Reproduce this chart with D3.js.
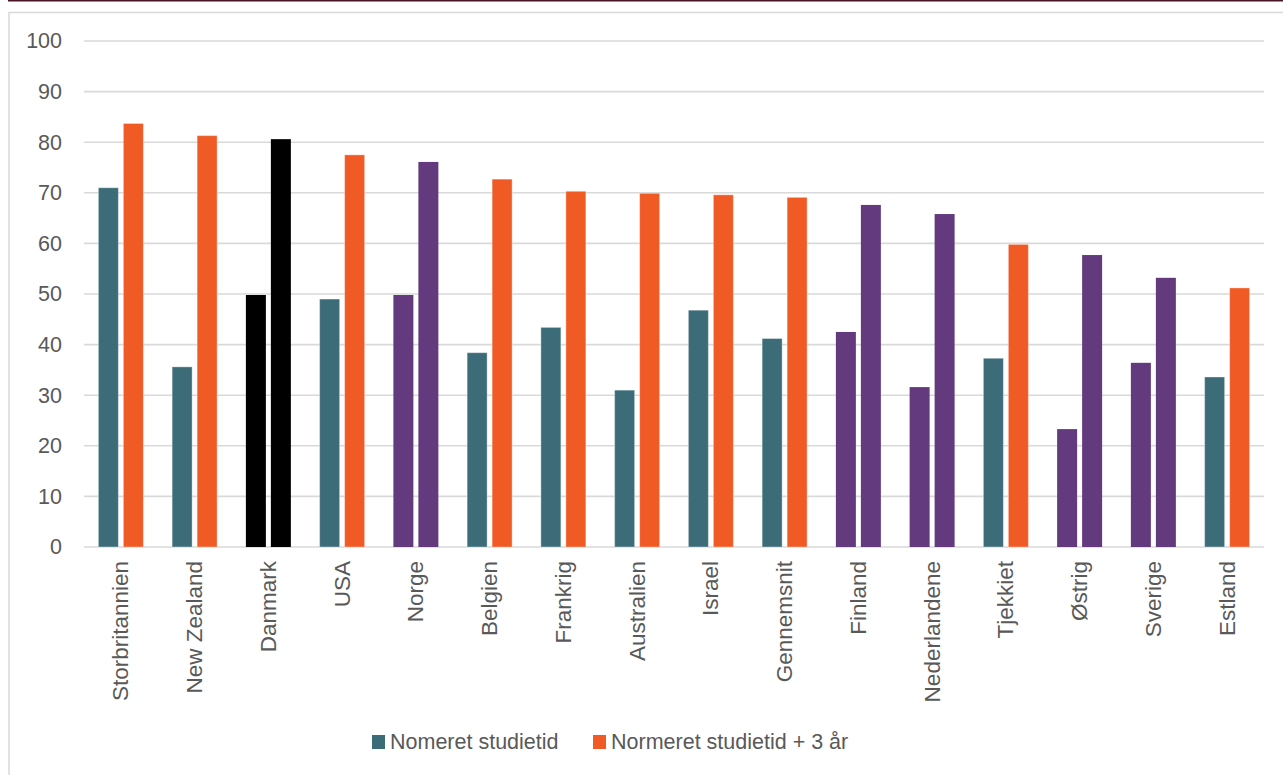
<!DOCTYPE html>
<html><head><meta charset="utf-8">
<script src="https://cdn.jsdelivr.net/npm/d3@7"></script>
<style>
html,body{margin:0;padding:0;background:#fff;}
svg{display:block;font-family:"Liberation Sans",Arial,sans-serif;}
</style></head>
<body><svg id="c" width="1283" height="775"></svg>
<script>
const categories = ["Storbritannien","New Zealand","Danmark","USA","Norge","Belgien","Frankrig","Australien","Israel","Gennemsnit","Finland","Nederlandene","Tjekkiet","Østrig","Sverige","Estland"];
const nomeret = [71.0,35.6,49.8,49.0,49.8,38.4,43.4,31.0,46.8,41.2,42.5,31.6,37.3,23.3,36.4,33.6];
const plus3 = [83.7,81.3,80.6,77.5,76.1,72.7,70.3,69.9,69.6,69.1,67.6,65.8,59.8,57.7,53.2,51.2];
// colour group per category: "std" = teal/orange, "dk" = black, "pu" = purple
const groups = ["std","std","dk","std","pu","std","std","std","std","std","pu","pu","std","pu","pu","std"];
const seriesNames = ["Nomeret studietid","Normeret studietid + 3 år"];
const yTicks = [0,10,20,30,40,50,60,70,80,90,100];

const palette = {std:["#3d6c79","#f05a24"], dk:["#000000","#000000"], pu:["#633a7e","#633a7e"]};
const svg = d3.select("#c");
const mLeft = 84, mRight = 1264, mTop = 41, mBottom = 547;

// frame
svg.append("line").attr("x1",8).attr("x2",1283).attr("y1",0.5).attr("y2",0.5).attr("stroke","#4a1526").attr("stroke-width",2);
svg.append("rect").attr("x",9).attr("y",12.5).attr("width",1290).attr("height",800)
  .attr("fill","none").attr("stroke","#d9d9d9").attr("stroke-width",1.5);

const y = d3.scaleLinear().domain([0,100]).range([mBottom,mTop]);
const x0 = d3.scaleBand().domain(categories).range([mLeft,mRight]).paddingInner(0.39).paddingOuter(0.195);
const x1 = d3.scaleBand().domain([0,1]).range([0,x0.bandwidth()]).paddingInner(0.2).paddingOuter(0);

// grid
const yAxis = d3.axisLeft(y).tickValues(yTicks).tickSize(0).tickPadding(0);
const ga = svg.append("g").attr("transform",`translate(${mLeft},0)`).call(yAxis);
ga.select(".domain").remove();
ga.selectAll("text").attr("x",-22).attr("font-size","21.5px").attr("fill","#595959").attr("font-family","Liberation Sans, Arial, sans-serif");
svg.append("g").selectAll("line").data(yTicks).join("line")
  .attr("x1",mLeft).attr("x2",mRight).attr("y1",d=>y(d)).attr("y2",d=>y(d))
  .attr("stroke","#d9d9d9").attr("stroke-width",1.6);

// bars
const rows = categories.map((c,i)=>({c,g:groups[i],vals:[nomeret[i],plus3[i]]}));
const cg = svg.append("g").selectAll("g").data(rows).join("g").attr("transform",d=>`translate(${x0(d.c)},0)`);
cg.selectAll("rect").data(d=>d.vals.map((v,k)=>({v,k,g:d.g}))).join("rect")
  .attr("x",d=>x1(d.k)).attr("width",x1.bandwidth())
  .attr("y",d=>y(d.v)).attr("height",d=>y(0)-y(d.v))
  .attr("fill",d=>palette[d.g][d.k])
  .attr("stroke",d=>d.g==="std"?"rgba(255,255,255,0.35)":"none").attr("stroke-width",1);

// x axis labels
const xAxis = d3.axisBottom(x0).tickSize(0).tickPadding(0);
const gx = svg.append("g").attr("transform",`translate(0,${mBottom})`).call(xAxis);
gx.select(".domain").remove();
gx.selectAll("text").attr("transform","rotate(-90)").attr("x",-14).attr("y",-0.5).attr("dy","0.36em")
  .attr("text-anchor","end").attr("font-size","22.5px").attr("fill","#595959").attr("font-family","Liberation Sans, Arial, sans-serif");

// legend
const legX = [372, 593];
const lg = svg.append("g").selectAll("g").data(seriesNames).join("g").attr("transform",(d,i)=>`translate(${legX[i]},735)`);
lg.append("rect").attr("width",13).attr("height",14).attr("fill",(d,i)=>palette.std[i]);
lg.append("text").attr("x",18).attr("y",14).attr("font-size","21.5px").attr("fill","#595959").text(d=>d);
</script></body></html>
